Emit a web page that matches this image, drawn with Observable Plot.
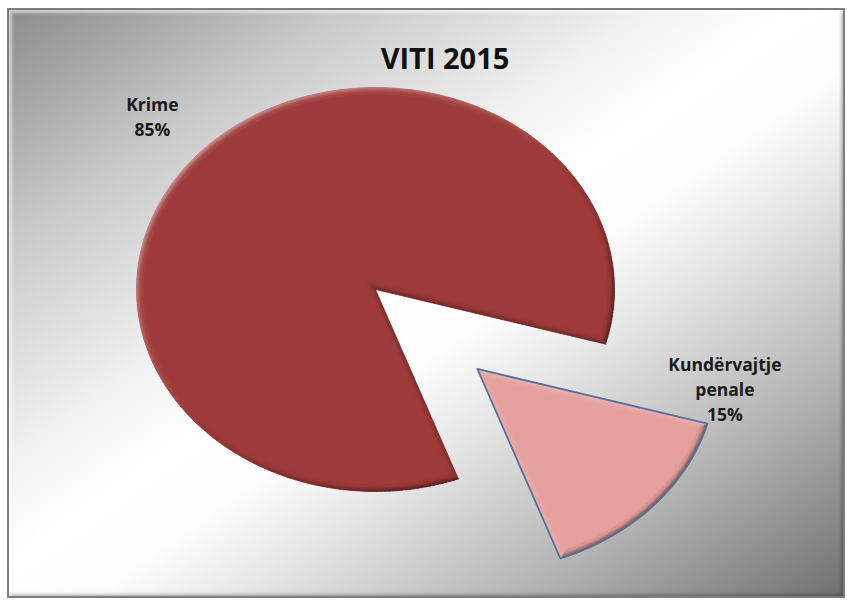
<!DOCTYPE html>
<html><head><meta charset="utf-8">
<script src="https://cdn.jsdelivr.net/npm/d3@7"></script>
<script src="https://cdn.jsdelivr.net/npm/@observablehq/plot@0.6"></script>
<style>
html,body{margin:0;padding:0;background:#fff;}
#wrap{position:relative;width:847px;height:602px;overflow:hidden;}
#frame{position:absolute;left:7px;top:8px;width:834px;height:586px;border:2px solid #7d7d7d;
  background:linear-gradient(to bottom right,#8c8c8c 0%,#cacaca 20%,#f0f0f0 38%,#ffffff 47%,#fdfdfd 55%,#e6e6e6 64%,#b0b0b0 82%,#707070 100%);
  box-shadow: inset 3px 3px 3px rgba(255,255,255,.55), inset -2px -2px 3px rgba(0,0,0,.25);}
#chart{position:absolute;left:0;top:0;}
#chart svg{background:transparent;overflow:visible;}
</style></head><body>
<div id="wrap"><div id="frame"></div><div id="chart"></div></div>
<script>
// ---- data ----
const title = "VITI 2015";
const categories = ["Krime", "Kundërvajtje penale"];
const values = [85, 15];
const percentLabels = ["85%", "15%"];
const labelText = ["Krime", "Kundërvajtje\npenale"];
const exploded = [false, true];

// ---- style / layout ----
const colors = ["#9E3B3A", "#E6A19F"];
const strokes = ["none", "#56719A"];
const W = 847, H = 602;
const cx = 375, cy = 289, rx = 239, ry = 202;   // pie ellipse
const startDeg = 69.7;                          // clockwise from 3 o'clock
const explodeFrac = 0.58;
const labelShift = [0, -37.5];                  // label angle relative to slice middle
const labelRadius = [1.27, 1.04];
const bevelSteps = [0, 1.5, 3, 4.5, 6.5];       // inset distances of bevel rings (px)
const bevelWeight = [1, 0.7, 0.4, 0.15];

const total = d3.sum(values);
const rad = d => d * Math.PI / 180;

// outline of a slice inset by distance d
function outline(ccx, ccy, a0, a1, d) {
  const span = rad(a1 - a0), mid = rad((a0 + a1) / 2);
  const k = d / Math.sin(span / 2);
  const pts = [{x: ccx + k * Math.cos(mid), y: ccy + k * Math.sin(mid)}];
  const eps = d / ((rx + ry) / 2);
  const t0 = rad(a0) + eps, t1 = rad(a1) - eps;
  const n = Math.max(8, Math.ceil(a1 - a0));
  for (let j = 0; j <= n; j++) {
    const t = t0 + (t1 - t0) * j / n;
    pts.push({x: ccx + (rx - d) * Math.cos(t), y: ccy + (ry - d) * Math.sin(t)});
  }
  return pts;
}
function shade(base, s, w) {
  return s >= 0 ? d3.interpolateRgb(base, "#ffffff")(0.42 * s * w)
                : d3.interpolateRgb(base, "#000000")(0.5 * -s * w);
}

let acc = startDeg;
const slices = categories.map((c, i) => {
  const a0 = acc, a1 = acc + values[i] / total * 360;
  acc = a1;
  const mid = (a0 + a1) / 2;
  const ox = exploded[i] ? explodeFrac * rx * Math.cos(rad(mid)) : 0;
  const oy = exploded[i] ? explodeFrac * ry * Math.sin(rad(mid)) : 0;
  const ccx = cx + ox, ccy = cy + oy;
  const la = rad(mid + labelShift[i]);
  return {
    name: c, ccx, ccy, a0, a1, color: colors[i], stroke: strokes[i],
    pts: outline(ccx, ccy, a0, a1, 0),
    label: {x: ccx + labelRadius[i] * rx * Math.cos(la), y: ccy + labelRadius[i] * ry * Math.sin(la),
            text: labelText[i] + "\n" + percentLabels[i]}
  };
});

// bevel quads: rings between successive insets, shaded by outward normal vs. light from top-left
const quads = [];
slices.forEach((s, si) => {
  for (let r = 0; r < bevelSteps.length - 1; r++) {
    const P = outline(s.ccx, s.ccy, s.a0, s.a1, bevelSteps[r]);
    const Q = outline(s.ccx, s.ccy, s.a0, s.a1, bevelSteps[r + 1]);
    const N = P.length;
    for (let k = 0; k < N; k++) {
      const k2 = (k + 1) % N;
      const dx = P[k2].x - P[k].x, dy = P[k2].y - P[k].y;
      const len = Math.hypot(dx, dy) || 1;
      const nx = dy / len, ny = -dx / len;
      const sdot = (-nx - ny) / Math.SQRT2;
      const col = shade(s.color, sdot, bevelWeight[r]);
      const id = `${si}-${r}-${k}`;
      [P[k], P[k2], Q[k2], Q[k]].forEach(p => quads.push({x: p.x, y: p.y, id, col}));
    }
  }
});

const plot = Plot.plot({
  width: W, height: H,
  margin: 0,
  x: {domain: [0, W], range: [0, W], axis: null},
  y: {domain: [0, H], range: [0, H], axis: null},
  color: {type: "identity"},
  style: {background: "transparent", fontFamily: "'Open Sans', sans-serif"},
  marks: [
    ...slices.map(s => Plot.line(s.pts, {
      x: "x", y: "y", curve: "linear-closed", fill: s.color, stroke: "none"
    })),
    Plot.line(quads, {x: "x", y: "y", z: "id", curve: "linear-closed", fill: "col", stroke: "col", strokeWidth: 0.6}),
    ...slices.filter(s => s.stroke !== "none").map(s => Plot.line(s.pts, {
      x: "x", y: "y", curve: "linear-closed", fill: "none", stroke: s.stroke, strokeWidth: 1.8, strokeLinejoin: "round"
    })),
    Plot.text(slices.map(s => s.label), {
      x: "x", y: "y", text: "text", lineAnchor: "middle", lineHeight: 1.45,
      fontSize: 17.5, fontWeight: 700, fill: "#1a1a1a", textAnchor: "middle"
    }),
    Plot.text([title], {
      frameAnchor: "top", dx: 21, dy: 48, fontSize: 29, fontWeight: 700, fill: "#111", lineAnchor: "top"
    })
  ]
});
document.getElementById("chart").appendChild(plot);
</script></body></html>
